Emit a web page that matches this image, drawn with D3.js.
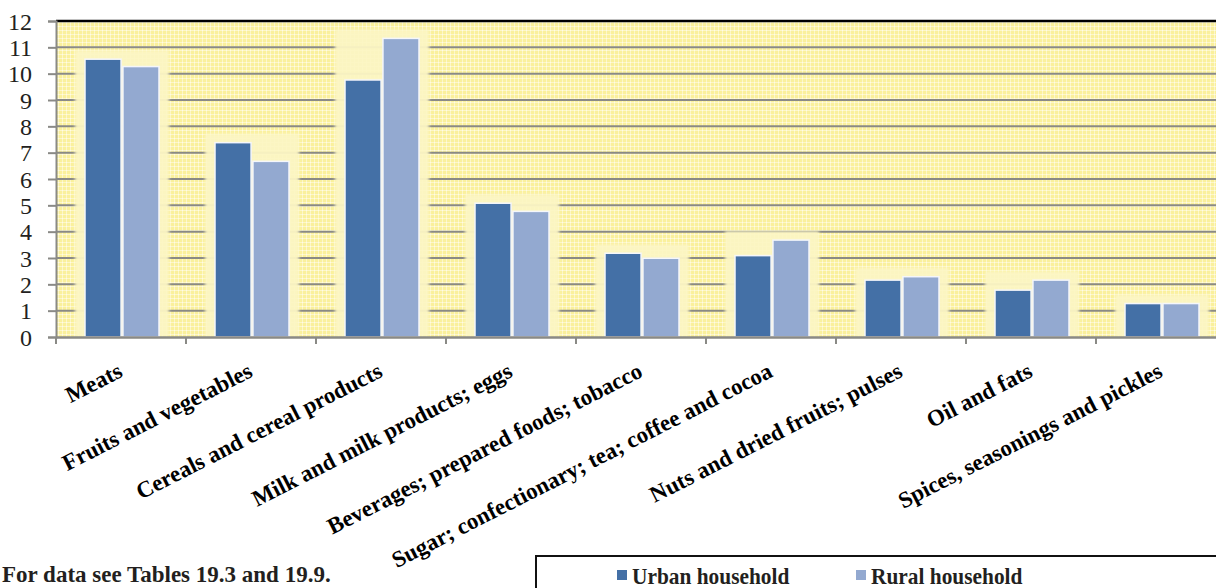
<!DOCTYPE html>
<html><head><meta charset="utf-8">
<script src="https://cdn.jsdelivr.net/npm/d3@7"></script>
<style>
html,body{margin:0;padding:0;background:#fff;overflow:hidden}
svg{display:block}
</style></head>
<body>
<svg id="c" width="1216" height="588"></svg>
<script>
const categories = ["Meats","Fruits and vegetables","Cereals and cereal products","Milk and milk products; eggs","Beverages; prepared foods; tobacco","Sugar; confectionary; tea; coffee and cocoa","Nuts and dried fruits; pulses","Oil and fats","Spices, seasonings and pickles"];
const seriesNames = ["Urban household","Rural household"];
const urban = [10.55, 7.38, 9.76, 5.08, 3.18, 3.09, 2.16, 1.78, 1.27];
const rural = [10.27, 6.67, 11.34, 4.77, 2.99, 3.68, 2.29, 2.16, 1.27];
const yTicks = [0,1,2,3,4,5,6,7,8,9,10,11,12];
const noteText = "For data see Tables 19.3 and 19.9.";
const colors = ["#4470a6","#93a9d0"];

(function(){
const svg = d3.select("#c");
const mLeft = 56, mRight = 1226, mTop = 21, mBottom = 337;

const x0 = d3.scaleBand().domain(categories).range([mLeft, mRight]).padding(0);
const x1 = d3.scaleBand().domain(seriesNames).range([29, 103]).paddingInner(0.05);
const y = d3.scaleLinear().domain([0, 12]).range([mBottom, mTop]);

const defs = svg.append("defs");
const pat = defs.append("pattern").attr("id","dots").attr("patternUnits","userSpaceOnUse").attr("width",4).attr("height",4);
pat.append("rect").attr("width",4).attr("height",4).attr("fill","#faf09c");
pat.append("rect").attr("x",0).attr("y",2).attr("width",4).attr("height",1).attr("fill","#fdf7c8");
pat.append("rect").attr("x",2).attr("y",0).attr("width",1).attr("height",4).attr("fill","#fdf7c8");
pat.append("rect").attr("x",2).attr("y",2).attr("width",1).attr("height",1).attr("fill","#fffbe6");
const glow = defs.append("filter").attr("id","blur").attr("x","-20%").attr("y","-20%").attr("width","140%").attr("height","140%");
glow.append("feGaussianBlur").attr("stdDeviation",1.5);

svg.append("rect").attr("x",mLeft).attr("y",mTop).attr("width",1216-mLeft).attr("height",mBottom-mTop).attr("fill","url(#dots)");

svg.append("g").selectAll("line").data(yTicks.filter(d=>d>0 && d<12)).join("line")
  .attr("x1",mLeft).attr("x2",1216).attr("y1",d=>y(d)).attr("y2",d=>y(d))
  .attr("stroke","#8a8a86").attr("stroke-width",2);

const groups = svg.append("g").selectAll("g").data(categories).join("g")
  .attr("transform",d=>`translate(${x0(d)},0)`);
groups.append("rect")
  .attr("x", x1(seriesNames[0]) - 10)
  .attr("width", x1(seriesNames[1]) + x1.bandwidth() - x1(seriesNames[0]) + 20)
  .attr("y", (d,i)=> y(Math.max(urban[i], rural[i])) - 9)
  .attr("height", (d,i)=> mBottom - y(Math.max(urban[i], rural[i])) + 9)
  .attr("fill","#fcf6c4").attr("opacity",0.95).attr("filter","url(#blur)");

const vals = [urban, rural];
seriesNames.forEach((s, si) => {
  groups.append("rect")
    .attr("x", x1(s))
    .attr("width", x1.bandwidth())
    .attr("y", (d,i)=> y(vals[si][i]))
    .attr("height", (d,i)=> mBottom - y(vals[si][i]))
    .attr("fill", colors[si])
    .attr("stroke","#f4f6fb").attr("stroke-width",1.5);
});

svg.append("line").attr("x1",mLeft).attr("x2",1216).attr("y1",mTop).attr("y2",mTop).attr("stroke","#000").attr("stroke-width",2.5);

const yAxis = svg.append("g").attr("transform",`translate(${mLeft},0)`)
  .call(d3.axisLeft(y).tickValues(yTicks).tickSize(8).tickPadding(16).tickFormat(d3.format("d")));
yAxis.select(".domain").attr("stroke","#8a8a86").attr("stroke-width",2);
yAxis.selectAll(".tick line").attr("stroke","#8a8a86").attr("stroke-width",2);
yAxis.selectAll("text").attr("font-family","'Liberation Serif', serif").attr("font-size",24).attr("fill","#231f20").attr("dy","0.34em");

const xAxis = svg.append("g").attr("transform",`translate(0,${mBottom})`)
  .call(d3.axisBottom(x0).tickSize(0).tickFormat(""));
xAxis.select(".domain").attr("stroke","#8a8a86").attr("stroke-width",2.5);
svg.append("g").selectAll("line").data(categories).join("line")
  .attr("x1",d=>x0(d)).attr("x2",d=>x0(d)).attr("y1",mBottom).attr("y2",mBottom+7)
  .attr("stroke","#8a8a86").attr("stroke-width",2);

svg.append("g").selectAll("text").data(categories).join("text")
  .attr("transform", d => `translate(${x0(d) + x0.bandwidth()/2 + 3},${mBottom + 39}) rotate(-27)`)
  .attr("text-anchor","end")
  .attr("font-family","'Liberation Serif', serif").attr("font-weight","bold")
  .attr("font-size",23).attr("fill","#000")
  .text(d=>d);

svg.append("text").attr("x",2).attr("y",582)
  .attr("font-family","'Liberation Serif', serif").attr("font-weight","bold")
  .attr("font-size",23).attr("fill","#231f20").text(noteText);

svg.append("rect").attr("x",536).attr("y",556).attr("width",700).attr("height",60)
  .attr("fill","#fff").attr("stroke","#111").attr("stroke-width",2);
const legX = [617, 856];
seriesNames.forEach((s, si) => {
  svg.append("rect").attr("x",legX[si]).attr("y",570).attr("width",10).attr("height",10).attr("fill",colors[si]);
  svg.append("text").attr("transform",`translate(${legX[si]+15},584) scale(0.93,1)`)
    .attr("font-family","'Liberation Serif', serif").attr("font-weight","bold")
    .attr("font-size",23).attr("fill","#231f20").text(s);
});
})();
</script>
</body></html>
